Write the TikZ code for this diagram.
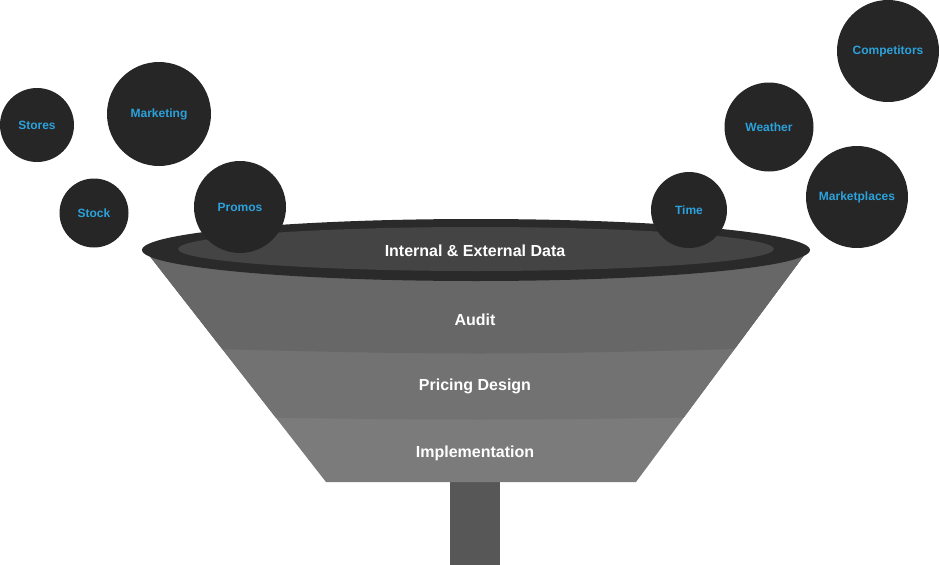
\documentclass[tikz,border=0pt]{standalone}
\usepackage{fontspec}
\setmainfont{Liberation Sans}
\definecolor{bubble}{HTML}{262626}
\definecolor{bluetxt}{HTML}{2CA2DC}
\definecolor{rimout}{HTML}{2A2A2A}
\definecolor{riminn}{HTML}{444444}
\definecolor{bandA}{HTML}{676767}
\definecolor{bandB}{HTML}{727272}
\definecolor{bandC}{HTML}{7B7B7B}
\definecolor{stemc}{HTML}{575757}
\tikzset{
  bub/.style={circle, fill=bubble, inner sep=0pt, text=bluetxt, font=\bfseries\fontsize{12}{14}\selectfont},
  stagelabel/.style={text=white, font=\bfseries\fontsize{16}{19}\selectfont, inner sep=0pt}
}
\begin{document}
\begin{tikzpicture}[x=1pt,y=-1pt]
\useasboundingbox (0,0) rectangle (940,565);
% stem
\fill[stemc] (450,478) rectangle (500,565);
% funnel body
\begin{scope}
\clip (145,250) -- (808,250) -- (636,482) -- (326,482) -- cycle;
\fill[bandC] (100,240) rectangle (850,490);
\fill[bandB] (100,240) -- (850,240) -- (850,415) .. controls (477,421) .. (100,415) -- cycle;
\fill[bandA] (100,240) -- (850,240) -- (850,346) .. controls (477,356) .. (100,346) -- cycle;
\end{scope}
% rim
\fill[rimout] (476,250) ellipse [x radius=334, y radius=31];
\fill[riminn] (476,249) ellipse [x radius=298, y radius=22];
% stage labels
\node[stagelabel] (data) at (475,251) {Internal \& External Data};
\node[stagelabel] (audit) at (475,320) {Audit};
\node[stagelabel] (design) at (475,386) {Pricing Design};
\node[stagelabel] (impl) at (475,453) {Implementation};
% bubbles
\node[bub, minimum size=74pt] (stores) at (37,125) {Stores};
\node[bub, minimum size=104pt] (marketing) at (159,114) {Marketing};
\node[bub, minimum size=69pt] (stock) at (94,213) {Stock};
\node[bub, minimum size=92pt] (promos) at (240,207) {Promos};
\node[bub, minimum size=76pt] (time) at (689,210) {Time};
\node[bub, minimum size=89pt] (weather) at (769,127) {Weather};
\node[bub, minimum size=102pt] (competitors) at (888,51) {Competitors};
\node[bub, minimum size=102pt] (marketplaces) at (857,197) {Marketplaces};
\end{tikzpicture}
\end{document}
